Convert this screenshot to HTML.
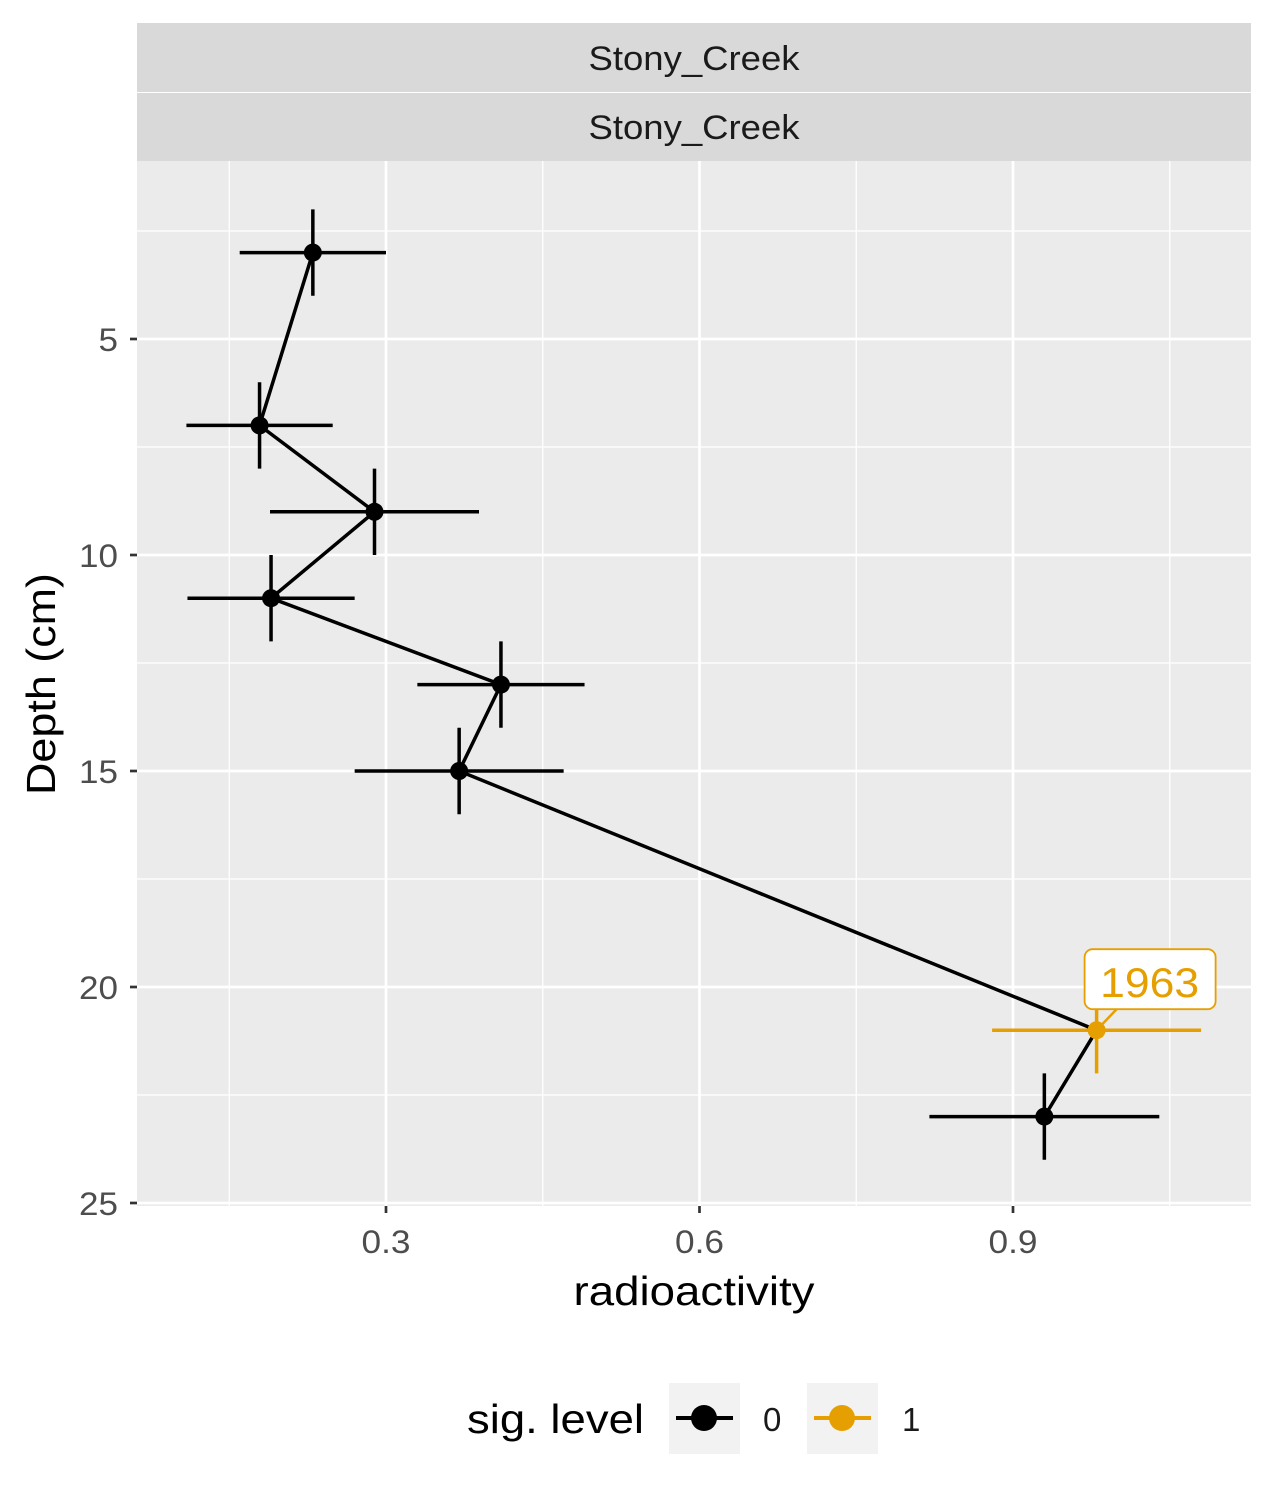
<!DOCTYPE html>
<html><head><meta charset="utf-8"><style>
body{margin:0;background:#fff;}
svg{display:block;font-family:"Liberation Sans",Arial,sans-serif;}
</style></head><body>
<svg id="chart" width="1275" height="1500">
<rect x="137" y="161" width="1114" height="1045" fill="#ebebeb"/>
<g id="grid"></g>
<rect x="137" y="23" width="1114" height="69" fill="#d9d9d9"/>
<rect x="137" y="93" width="1114" height="68" fill="#d9d9d9"/>
<text x="694" y="70" font-size="34" text-anchor="middle" fill="#1a1a1a" textLength="211" lengthAdjust="spacingAndGlyphs">Stony_Creek</text>
<text x="694" y="139" font-size="34" text-anchor="middle" fill="#1a1a1a" textLength="211" lengthAdjust="spacingAndGlyphs">Stony_Creek</text>
<g id="axes"></g>
<g id="marks"></g>
<text x="694" y="1305" font-size="41" text-anchor="middle" fill="#000" textLength="241" lengthAdjust="spacingAndGlyphs">radioactivity</text>
<text transform="translate(55,684) rotate(-90)" font-size="41" text-anchor="middle" fill="#000" textLength="222" lengthAdjust="spacingAndGlyphs">Depth (cm)</text>
<g>
<text x="467" y="1433" font-size="41" fill="#000" textLength="177" lengthAdjust="spacingAndGlyphs">sig. level</text>
<rect x="669" y="1383" width="71" height="71" fill="#f2f2f2"/>
<line x1="676" y1="1418" x2="733" y2="1418" stroke="#000" stroke-width="4"/>
<circle cx="704" cy="1418" r="13" fill="#000"/>
<text x="763" y="1431" font-size="33" fill="#1a1a1a">0</text>
<rect x="807" y="1383" width="71" height="71" fill="#f2f2f2"/>
<line x1="814" y1="1418" x2="871" y2="1418" stroke="#E69F00" stroke-width="4"/>
<circle cx="842" cy="1418" r="13" fill="#E69F00"/>
<text x="902" y="1431" font-size="33" fill="#1a1a1a">1</text>
</g>
</svg>
<script>
const depth=[3,7,9,11,13,15,21,23];
const activity=[0.23,0.179,0.289,0.19,0.41,0.37,0.98,0.93];
const xerr=[0.07,0.07,0.1,0.08,0.08,0.1,0.1,0.11];
const yerr=[1,1,1,1,1,1,1,1];
const sig=[0,0,0,0,0,0,1,0];
const xTicks=[0.3,0.6,0.9];
const xMinor=[0.15,0.45,0.75,1.05];
const yTicks=[5,10,15,20,25];
const yMinor=[2.5,7.5,12.5,17.5,22.5];
const label="1963";
const NS="http://www.w3.org/2000/svg";
const X=v=>386+(v-0.3)*1045;
const Y=d=>339+(d-5)*43.2;
function mk(tag,attrs,parent){const e=document.createElementNS(NS,tag);for(const k in attrs)e.setAttribute(k,attrs[k]);document.getElementById(parent).appendChild(e);return e;}
xMinor.forEach(v=>{const e=mk('line',{x1:X(v),x2:X(v),y1:161,y2:1206,stroke:'#fff','stroke-width':1.3},'grid');

});
yMinor.forEach(v=>{const e=mk('line',{x1:137,x2:1251,y1:Y(v),y2:Y(v),stroke:'#fff','stroke-width':1.3},'grid');

});
xTicks.forEach(v=>{const e=mk('line',{x1:X(v),x2:X(v),y1:161,y2:1206,stroke:'#fff','stroke-width':2.7},'grid');


const t=mk('line',{x1:X(v),x2:X(v),y1:1206,y2:1213,stroke:'#333','stroke-width':2.7},'axes');


const l=mk('text',{x:X(v),y:1253,'font-size':32,'text-anchor':'middle',fill:'#4d4d4d',textLength:49,lengthAdjust:'spacingAndGlyphs'},'axes');l.textContent=v.toFixed(1);

});
yTicks.forEach(v=>{const e=mk('line',{x1:137,x2:1251,y1:Y(v),y2:Y(v),stroke:'#fff','stroke-width':2.7},'grid');


const t=mk('line',{x1:130,x2:137,y1:Y(v),y2:Y(v),stroke:'#333','stroke-width':2.7},'axes');


const s=String(v);
const l=mk('text',{x:118,y:Y(v)+12,'font-size':32,'text-anchor':'end',fill:'#4d4d4d',textLength:s.length*19.5,lengthAdjust:'spacingAndGlyphs'},'axes');l.textContent=s;

});
const col=s=>s?'#E69F00':'#000';
depth.forEach((d,i)=>{
const h=mk('line',{x1:X(activity[i]-xerr[i]),x2:X(activity[i]+xerr[i]),y1:Y(d),y2:Y(d),stroke:col(sig[i]),'stroke-width':3.5},'marks');


const v=mk('line',{x1:X(activity[i]),x2:X(activity[i]),y1:Y(d-yerr[i]),y2:Y(d+yerr[i]),stroke:col(sig[i]),'stroke-width':3.5},'marks');

});
const p=mk('polyline',{points:depth.map((d,i)=>X(activity[i])+','+Y(d)).join(' '),fill:'none',stroke:'#000','stroke-width':3.5},'marks');


depth.forEach((d,i)=>{const c=mk('circle',{cx:X(activity[i]),cy:Y(d),r:9,fill:col(sig[i])},'marks');


if(sig[i]){const lx=X(activity[i]),ly=Y(d);
const ln=mk('line',{x1:lx,y1:ly,x2:lx+20,y2:ly-21,stroke:'#E69F00','stroke-width':2.5},'marks');


const r=mk('rect',{x:lx-12,y:ly-81,width:131,height:60,rx:8,fill:'#fff',stroke:'#E69F00','stroke-width':1.8},'marks');


const t=mk('text',{x:lx+53,y:ly-33,'font-size':42,'text-anchor':'middle',fill:'#E69F00',textLength:99,lengthAdjust:'spacingAndGlyphs'},'marks');t.textContent=label;

}});
</script>
</body></html>
